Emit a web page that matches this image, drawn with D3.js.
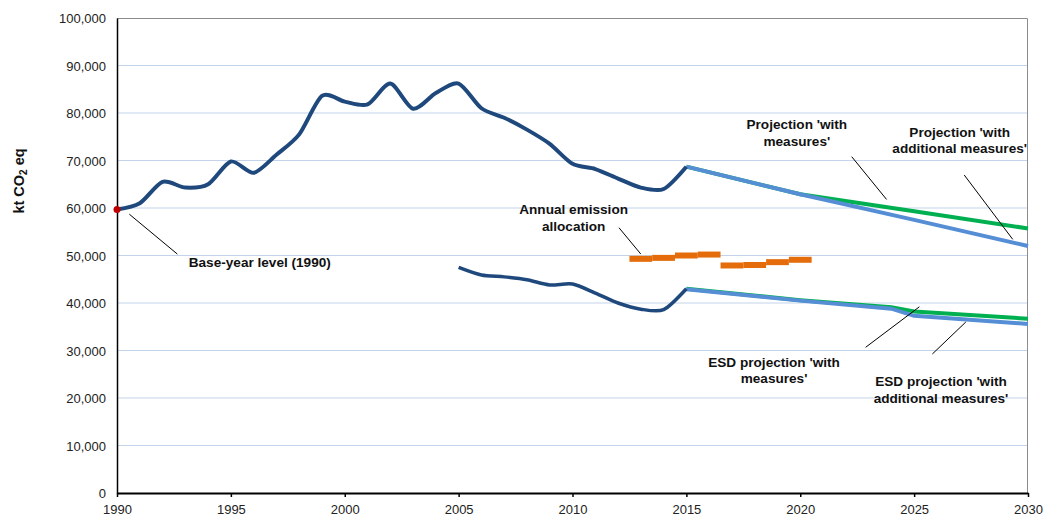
<!DOCTYPE html>
<html lang="en">
  <head>
    <meta charset="utf-8">
    <title>kt CO2 eq projections</title>
    <script src="https://cdnjs.cloudflare.com/ajax/libs/d3/7.8.5/d3.min.js"></script>
    <style>
      body { margin: 0; background: #fff; }
      * { font-family: "Liberation Sans", Arial, sans-serif; }
      .tick text { font-size: 13px; fill: #222; }
      .note { font-size: 13.6px; font-weight: bold; fill: #111; }
      .grid line { stroke: #c3d3ea; stroke-width: 1px; }
    </style>
  </head>
  <body>
    <div id="vis"></div>
<script>
    // ---- data ----
    var years = d3.range(1990, 2016);
    var totalEmissions = [59700, 61000, 65500, 64300, 65000, 69800, 67400, 71200, 75500, 83600,
                          82400, 81800, 86200, 80900, 84200, 86200, 81000, 79000, 76500, 73500,
                          69300, 68200, 66200, 64300, 64000, 68700];

    var esdYears = d3.range(2005, 2016);
    var esdEmissions = [47500, 45900, 45500, 44900, 43800, 44000, 42100, 40000, 38700, 38600, 43000];

    var projYears = [2015, 2020, 2025, 2030];
    var projWM  = [68700, 62900, 59300, 55700];
    var projWAM = [68700, 62900, 57500, 52000];

    var esdProjYears = [2015, 2020, 2024, 2025, 2030];
    var esdProjWM  = [43000, 40600, 39100, 38200, 36700];
    var esdProjWAM = [42900, 40500, 38800, 37300, 35600];

    var allocYears = [2013, 2014, 2015, 2016, 2017, 2018, 2019, 2020];
    var allocValues = [49300, 49500, 50000, 50200, 47900, 48000, 48600, 49100];

    var baseYear = 1990;
    var baseValue = 59700;

    var yTicks = d3.range(0, 100001, 10000);
    var xTicks = d3.range(1990, 2031, 5);

    var width = 1046;
    var height = 516;
    var margin = { top: 18, bottom: 23, left: 117, right: 18 };

    var svg = d3.select('#vis')
        .append('svg')
        .attr('width', width)
        .attr('height', height)
        .append('g')
        .attr('transform', 'translate(' + margin.left + ',' + margin.top + ')');

    width = width - margin.left - margin.right;
    height = height - margin.top - margin.bottom;

    var x_scale = d3.scaleLinear().domain([1990, 2030]).range([0, width]);
    var y_scale = d3.scaleLinear().domain([0, 100000]).range([height, 0]);

    // gridlines
    svg.append('g')
        .attr('class', 'grid')
        .selectAll('line')
        .data(yTicks.slice(1, -1))
        .enter()
        .append('line')
        .attr('x1', 0)
        .attr('x2', width)
        .attr('y1', function(d) { return y_scale(d); })
        .attr('y2', function(d) { return y_scale(d); });

    // grey frame top / right
    svg.append('path')
        .attr('d', 'M0,0.5H' + (width - 0.5) + 'V' + height)
        .attr('fill', 'none')
        .attr('stroke', '#8c8c8c')
        .attr('stroke-width', 1);

    var x_axis = d3.axisBottom(x_scale)
        .tickValues(xTicks)
        .tickFormat(d3.format('d'))
        .tickSize(4)
        .tickSizeOuter(0);

    var y_axis = d3.axisLeft(y_scale)
        .tickValues(yTicks)
        .tickFormat(function(d) { return d === 0 ? '0' : d3.format(',')(d); })
        .tickSize(0)
        .tickPadding(11);

    var gx = svg.append('g')
        .attr('transform', 'translate(0,' + height + ')')
        .call(x_axis);
    gx.select('.domain').attr('stroke', '#000').attr('stroke-width', 2);
    gx.selectAll('.tick line').attr('stroke', '#000').attr('stroke-width', 1.5);
    gx.selectAll('.tick text').attr('dy', '1.05em');

    var gy = svg.append('g').call(y_axis);
    gy.select('.domain').attr('stroke', '#000').attr('stroke-width', 1.5);
    gy.selectAll('.tick text').attr('dy', '0.36em');

    // y title
    var yTitle = svg.append('text')
        .attr('transform', 'translate(' + (19 - margin.left + 5) + ',' + (181 - margin.top) + ') rotate(-90)')
        .attr('text-anchor', 'middle')
        .style('font-size', '14.5px')
        .style('font-weight', 'bold')
        .attr('fill', '#111');
    yTitle.append('tspan').text('kt CO');
    yTitle.append('tspan').attr('baseline-shift', '-25%').style('font-size', '10px').text('2');
    yTitle.append('tspan').text(' eq');

    // lines
    var smooth = d3.line()
        .x(function(d) { return x_scale(d[0]); })
        .y(function(d) { return y_scale(d[1]); })
        .curve(d3.curveCardinal.tension(0.2));

    var straight = d3.line()
        .x(function(d) { return x_scale(d[0]); })
        .y(function(d) { return y_scale(d[1]); });

    function pairs(xs, ys) {
        return xs.map(function(v, i) { return [v, ys[i]]; });
    }

    svg.append('path')
        .attr('d', straight(pairs(projYears, projWM)))
        .attr('fill', 'none').attr('stroke', '#00b050').attr('stroke-width', 4);
    svg.append('path')
        .attr('d', straight(pairs(projYears, projWAM)))
        .attr('fill', 'none').attr('stroke', '#558ed5').attr('stroke-width', 4);

    svg.append('path')
        .attr('d', straight(pairs(esdProjYears, esdProjWM)))
        .attr('fill', 'none').attr('stroke', '#00b050').attr('stroke-width', 4);
    svg.append('path')
        .attr('d', straight(pairs(esdProjYears, esdProjWAM)))
        .attr('fill', 'none').attr('stroke', '#558ed5').attr('stroke-width', 4);

    svg.append('path')
        .attr('d', smooth(pairs(years, totalEmissions)))
        .attr('fill', 'none').attr('stroke', '#1f497d').attr('stroke-width', 4)
        .attr('stroke-linejoin', 'round');

    svg.append('path')
        .attr('d', smooth(pairs(esdYears, esdEmissions)))
        .attr('fill', 'none').attr('stroke', '#1f497d').attr('stroke-width', 3.5)
        .attr('stroke-linejoin', 'round');

    // annual allocations
    svg.selectAll('.alloc')
        .data(pairs(allocYears, allocValues))
        .enter()
        .append('line')
        .attr('class', 'alloc')
        .attr('x1', function(d) { return x_scale(d[0] - 0.5); })
        .attr('x2', function(d) { return x_scale(d[0] + 0.5); })
        .attr('y1', function(d) { return y_scale(d[1]); })
        .attr('y2', function(d) { return y_scale(d[1]); })
        .attr('stroke', '#e46c0a')
        .attr('stroke-width', 6);

    // base year dot
    svg.append('circle')
        .attr('cx', x_scale(baseYear))
        .attr('cy', y_scale(baseValue))
        .attr('r', 3.5)
        .attr('fill', '#c00000');

    // annotations: [year, value] positions
    var notes = [
        { lines: ['Base-year level (1990)'], anchor: 'start', at: [1993.15, 47600], from: [1990.54, 58700], to: [1992.65, 50300] },
        { lines: ['Annual emission', 'allocation'], anchor: 'middle', at: [2010.05, 58700], from: [2012.04, 55850], to: [2013.0, 50300] },
        { lines: ["Projection 'with", "measures'"], anchor: 'middle', at: [2019.85, 76600], from: [2022.26, 70800], to: [2023.79, 61800] },
        { lines: ["Projection 'with", "additional measures'"], anchor: 'middle', at: [2027.0, 74950], from: [2027.2, 66950], to: [2029.33, 53400] },
        { lines: ["ESD projection 'with", "measures'"], anchor: 'middle', at: [2018.85, 26600], from: [2022.87, 30670], to: [2025.23, 39200] },
        { lines: ["ESD projection 'with", "additional measures'"], anchor: 'middle', at: [2026.18, 22500], from: [2025.8, 29260], to: [2027.27, 36000] }
    ];

    notes.forEach(function(n) {
        svg.append('line')
            .attr('x1', x_scale(n.from[0])).attr('y1', y_scale(n.from[1]))
            .attr('x2', x_scale(n.to[0])).attr('y2', y_scale(n.to[1]))
            .attr('stroke', '#000').attr('stroke-width', 1);
        var t = svg.append('text')
            .attr('class', 'note')
            .attr('text-anchor', n.anchor)
            .attr('x', x_scale(n.at[0]))
            .attr('y', y_scale(n.at[1]));
        n.lines.forEach(function(l, i) {
            t.append('tspan')
                .attr('x', x_scale(n.at[0]))
                .attr('dy', i === 0 ? 0 : 16.5)
                .text(l);
        });
    });
</script>
  </body>
</html>
